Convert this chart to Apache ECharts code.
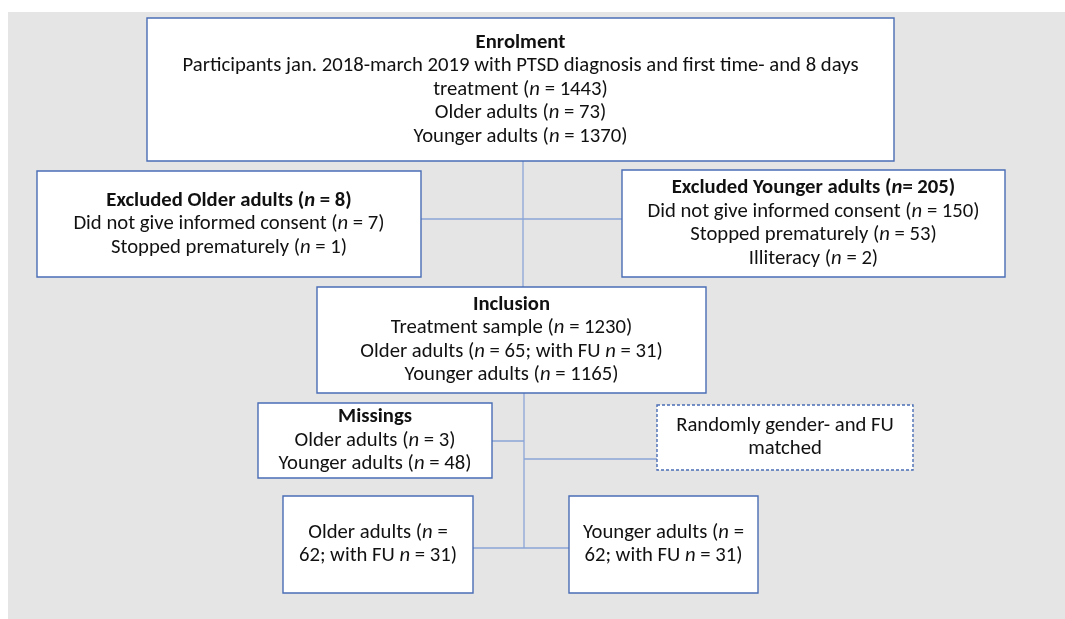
<!DOCTYPE html>
<html>
<head>
<meta charset="utf-8">
<script src="https://cdn.jsdelivr.net/npm/echarts@6/dist/echarts.min.js"></script>
<style>
html, body {margin: 0; background: #fff;}
#main {width: 1065px; height: 619px;}
</style>
</head>
<body>
<div id="main"></div>
<script>
// box texts, *n* marks the italic n
const boxTitles = [
	'Enrolment',
	'Excluded Older adults (*n* = 8)',
	'Excluded Younger adults (*n*= 205)',
	'Inclusion',
	'Missings',
	'',
	'',
	''
];
const boxLines = [
	['Participants jan. 2018-march 2019 with PTSD diagnosis and first time- and 8 days', 'treatment (*n* = 1443)', 'Older adults (*n* = 73)', 'Younger adults (*n* = 1370)'],
	['Did not give informed consent (*n* = 7)', 'Stopped prematurely (*n* = 1)'],
	['Did not give informed consent (*n* = 150)', 'Stopped prematurely (*n* = 53)', 'Illiteracy (*n* = 2)'],
	['Treatment sample (*n* = 1230)', 'Older adults (*n* = 65; with FU *n* = 31)', 'Younger adults (*n* = 1165)'],
	['Older adults (*n* = 3)', 'Younger adults (*n* = 48)'],
	['Randomly gender- and FU', 'matched'],
	['Older adults (*n* =', '62; with FU *n* = 31)'],
	['Younger adults (*n* =', '62; with FU *n* = 31)']
];
const boxDashed = [false, false, false, false, false, true, false, false];

// layout in page pixels: [x0, y0, x1, y1]
const boxRects = [
	[147, 18, 894, 161],
	[37, 171, 421, 277],
	[622, 170, 1005, 277],
	[317, 287, 706, 393],
	[258, 403, 492, 478],
	[657, 405, 913, 470],
	[283, 496, 473, 593],
	[569, 496, 758, 593]
];
const connectors = [
	[523, 161, 523, 287],
	[421, 219, 622, 219],
	[524, 393, 524, 548],
	[490, 441, 524, 441],
	[524, 459, 657, 459],
	[473, 548, 569, 548]
];

const FONT = 'Carlito, Lato, sans-serif';
const SIZE = 20.7;
const LH = 23.5;
const rich = {
	r: {fontFamily: FONT, fontSize: SIZE, lineHeight: LH, color: '#111'},
	i: {fontFamily: FONT, fontSize: SIZE, lineHeight: LH, color: '#111', fontStyle: 'italic'},
	b: {fontFamily: FONT, fontSize: SIZE, lineHeight: LH, color: '#111', fontWeight: 'bold'},
	bi: {fontFamily: FONT, fontSize: SIZE, lineHeight: LH, color: '#111', fontWeight: 'bold', fontStyle: 'italic'}
};

function toRich(line, bold) {
	return line.split('*').map((part, k) => {
		if (!part) return '';
		let style = k % 2 ? 'i' : 'r';
		if (bold) style = k % 2 ? 'bi' : 'b';
		return '{' + style + '|' + part + '}';
	}).join('');
}

function boxText(i) {
	const out = [];
	if (boxTitles[i]) out.push(toRich(boxTitles[i], true));
	boxLines[i].forEach(l => out.push(toRich(l, false)));
	return out.join('\n');
}

const chart = echarts.init(document.getElementById('main'));
chart.setOption({
	animation: false,
	grid: {left: 0, right: 0, top: 0, bottom: 0},
	xAxis: {type: 'value', min: 0, max: 1065, show: false},
	yAxis: {type: 'value', min: 0, max: 619, inverse: true, show: false},
	graphic: [{
		type: 'rect', z: -10, silent: true,
		shape: {x: 8, y: 12, width: 1057, height: 607},
		style: {fill: '#e5e5e5'}
	}],
	series: [
		{
			type: 'custom',
			silent: true,
			z: 1,
			data: connectors.map(c => ({value: c})),
			renderItem(params, api) {
				const a = api.coord([api.value(0), api.value(1)]);
				const b = api.coord([api.value(2), api.value(3)]);
				return {
					type: 'line',
					shape: {x1: a[0], y1: a[1], x2: b[0], y2: b[1]},
					style: {stroke: '#8aa5d6', lineWidth: 1.3}
				};
			}
		},
		{
			type: 'custom',
			silent: true,
			z: 2,
			data: boxRects.map(r => ({value: r})),
			renderItem(params, api) {
				const i = params.dataIndex;
				const a = api.coord([api.value(0), api.value(1)]);
				const b = api.coord([api.value(2), api.value(3)]);
				return {
					type: 'group',
					children: [
						{
							type: 'rect',
							shape: {x: a[0], y: a[1], width: b[0] - a[0], height: b[1] - a[1]},
							style: {
								fill: '#fff', stroke: '#4a6db5', lineWidth: 1.4,
								lineDash: boxDashed[i] ? [3, 2] : null
							}
						},
						{
							type: 'text',
							x: (a[0] + b[0]) / 2,
							y: (a[1] + b[1]) / 2,
							style: {
								text: boxText(i), rich: rich,
								align: 'center', verticalAlign: 'middle',
								fontFamily: FONT, fontSize: SIZE, fill: '#111'
							}
						}
					]
				};
			}
		}
	]
});
</script>
</body>
</html>
